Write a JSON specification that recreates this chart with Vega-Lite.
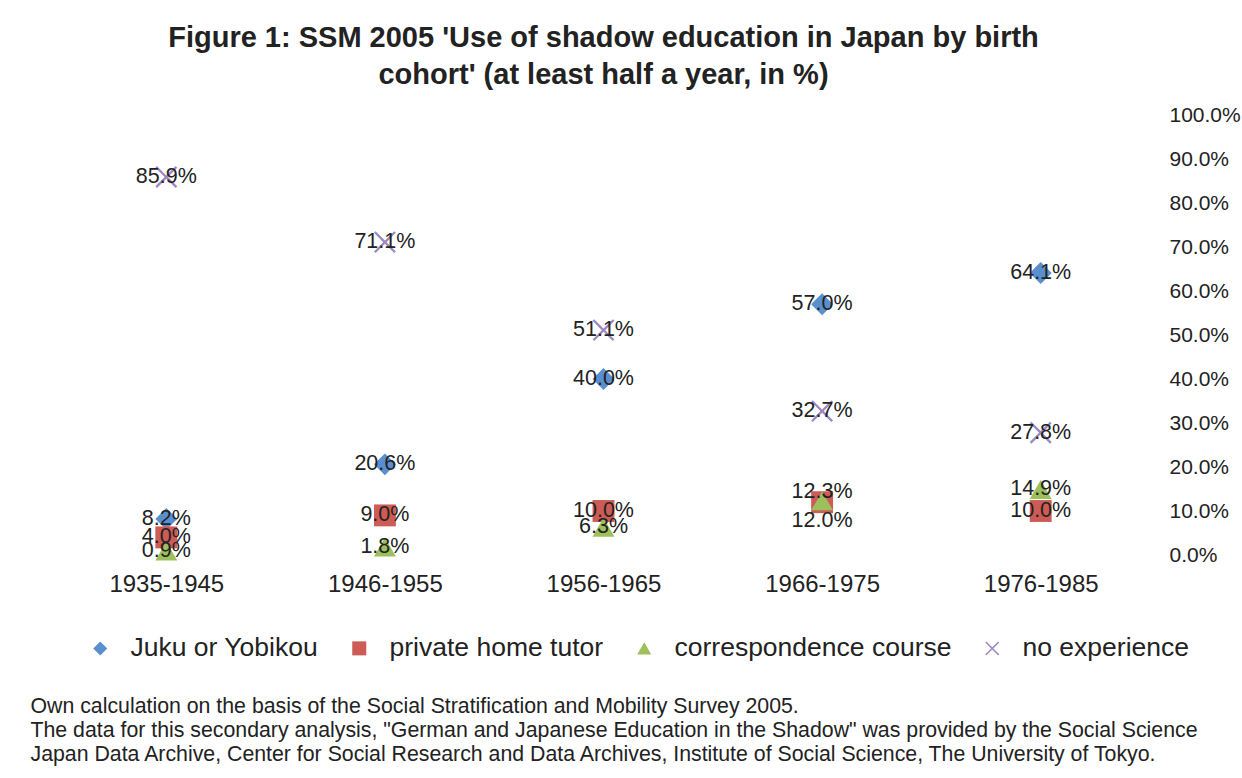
{
  "$schema": "https://vega.github.io/schema/vega-lite/v6.json",
  "autosize": {"type": "none"},
  "width": 1093,
  "height": 440,
  "padding": {"left": 57, "top": 115, "right": 92, "bottom": 223},
  "background": "white",
  "config": {
    "view": {"stroke": null},
    "font": "Liberation Sans",
    "text": {"font": "Liberation Sans"}
  },
  "title": {
    "text": ["Figure 1: SSM 2005 'Use of shadow education in Japan by birth", "cohort' (at least half a year, in %)"],
    "font": "Liberation Sans",
    "fontSize": 29,
    "fontWeight": "bold",
    "color": "#222222",
    "anchor": "middle",
    "offset": 14,
    "lineHeight": 37
  },
  "data": {
    "values": [
      {"cohort": "1935-1945", "series": "Juku or Yobikou", "share": 0.082},
      {"cohort": "1946-1955", "series": "Juku or Yobikou", "share": 0.206},
      {"cohort": "1956-1965", "series": "Juku or Yobikou", "share": 0.400},
      {"cohort": "1966-1975", "series": "Juku or Yobikou", "share": 0.570},
      {"cohort": "1976-1985", "series": "Juku or Yobikou", "share": 0.641},
      {"cohort": "1935-1945", "series": "private home tutor", "share": 0.040},
      {"cohort": "1946-1955", "series": "private home tutor", "share": 0.090},
      {"cohort": "1956-1965", "series": "private home tutor", "share": 0.100},
      {"cohort": "1966-1975", "series": "private home tutor", "share": 0.120},
      {"cohort": "1976-1985", "series": "private home tutor", "share": 0.100},
      {"cohort": "1935-1945", "series": "correspondence course", "share": 0.009},
      {"cohort": "1946-1955", "series": "correspondence course", "share": 0.018},
      {"cohort": "1956-1965", "series": "correspondence course", "share": 0.063},
      {"cohort": "1966-1975", "series": "correspondence course", "share": 0.123},
      {"cohort": "1976-1985", "series": "correspondence course", "share": 0.149},
      {"cohort": "1935-1945", "series": "no experience", "share": 0.859},
      {"cohort": "1946-1955", "series": "no experience", "share": 0.711},
      {"cohort": "1956-1965", "series": "no experience", "share": 0.511},
      {"cohort": "1966-1975", "series": "no experience", "share": 0.327},
      {"cohort": "1976-1985", "series": "no experience", "share": 0.278}
    ]
  },
  "encoding": {
    "x": {
      "field": "cohort",
      "type": "nominal",
      "sort": null,
      "scale": {"type": "point", "padding": 0.5},
      "axis": {
        "domain": false,
        "ticks": false,
        "labelAngle": 0,
        "labelFontSize": 24,
        "labelColor": "#222222",
        "labelPadding": 17,
        "labelFont": "Liberation Sans",
        "title": [
          "Own calculation on the basis of the Social Stratification and Mobility Survey 2005.",
          "The data for this secondary analysis, \"German and Japanese Education in the Shadow\" was provided by the Social Science",
          "Japan Data Archive, Center for Social Research and Data Archives, Institute of Social Science, The University of Tokyo."
        ],
        "titleFont": "Liberation Sans",
        "titleFontSize": 21.3,
        "titleFontWeight": "normal",
        "titleColor": "#222222",
        "titleAnchor": "start",
        "titleAlign": "left",
        "titleBaseline": "top",
        "titleX": -27,
        "titleY": 140,
        "titleLineHeight": 24,
        "titleLimit": 1300
      }
    },
    "y": {
      "field": "share",
      "type": "quantitative",
      "scale": {"domain": [0, 1]},
      "axis": {
        "orient": "right",
        "domain": false,
        "ticks": false,
        "grid": false,
        "values": [0, 0.1, 0.2, 0.3, 0.4, 0.5, 0.6, 0.7, 0.8, 0.9, 1.0],
        "format": ".1%",
        "labelFontSize": 21,
        "labelColor": "#222222",
        "labelPadding": 19,
        "labelFont": "Liberation Sans",
        "title": null
      }
    }
  },
  "layer": [
    {
      "mark": {"type": "point", "filled": true, "opacity": 1, "size": 480, "strokeWidth": 0},
      "encoding": {
        "color": {
          "field": "series",
          "type": "nominal",
          "scale": {
            "domain": ["Juku or Yobikou", "private home tutor", "correspondence course", "no experience"],
            "range": ["#5A8FCF", "#CC5C55", "#9DBF5C", "#9D88C4"]
          },
          "legend": {
            "orient": "none",
            "direction": "horizontal",
            "legendX": 30,
            "legendY": 520,
            "title": null,
            "labelFontSize": 26.5,
            "labelColor": "#222222",
            "labelFont": "Liberation Sans",
            "labelLimit": 500,
            "symbolSize": 196,
            "symbolStrokeWidth": 0,
            "labelOffset": 17,
            "columnPadding": 27
          }
        },
        "shape": {
          "field": "series",
          "type": "nominal",
          "scale": {
            "domain": ["Juku or Yobikou", "private home tutor", "correspondence course", "no experience"],
            "range": ["diamond", "square", "triangle-up", "M-1,-0.85L-0.85,-1L0,-0.15L0.85,-1L1,-0.85L0.15,0L1,0.85L0.85,1L0,0.15L-0.85,1L-1,0.85L-0.15,0Z"]
          },
          "legend": null
        }
      }
    },
    {
      "transform": [{"filter": "datum.cohort != '1966-1975' || (datum.series != 'private home tutor' && datum.series != 'correspondence course')"}],
      "mark": {"type": "text", "fontSize": 21.5, "color": "#222222", "baseline": "middle", "align": "center", "font": "Liberation Sans"},
      "encoding": {"text": {"field": "share", "type": "quantitative", "format": ".1%"}}
    },
    {
      "transform": [{"filter": "datum.cohort == '1966-1975' && datum.series == 'correspondence course'"}],
      "mark": {"type": "text", "fontSize": 21.5, "color": "#222222", "baseline": "middle", "align": "center", "dy": -9, "font": "Liberation Sans"},
      "encoding": {"text": {"field": "share", "type": "quantitative", "format": ".1%"}}
    },
    {
      "transform": [{"filter": "datum.cohort == '1966-1975' && datum.series == 'private home tutor'"}],
      "mark": {"type": "text", "fontSize": 21.5, "color": "#222222", "baseline": "middle", "align": "center", "dy": 19, "font": "Liberation Sans"},
      "encoding": {"text": {"field": "share", "type": "quantitative", "format": ".1%"}}
    }
  ]
}
